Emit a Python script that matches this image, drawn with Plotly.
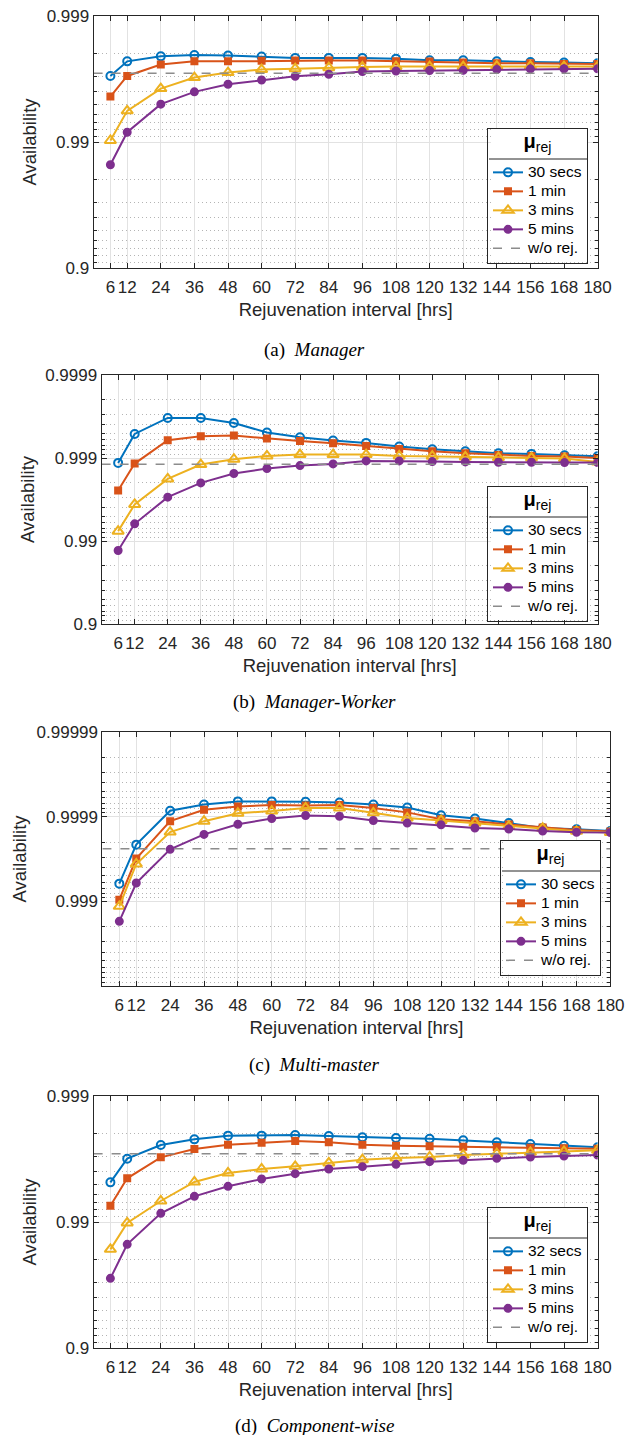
import math
import plotly.graph_objects as go

# ---------------- data ----------------
INTERVALS = [6, 12, 24, 36, 48, 60, 72, 84, 96, 108, 120, 132, 144, 156, 168, 180]
X_RANGE = [0, 180]
LABELS_ABC = ["30 secs", "1 min", "3 mins", "5 mins"]
LABELS_D = ["32 secs", "1 min", "3 mins", "5 mins"]
BASE_LABEL = "w/o rej."

# (a) Manager
MGR_30S = [0.99701, 0.99771, 0.99791, 0.99796, 0.99794, 0.99790, 0.99785, 0.99785,
           0.99785, 0.99782, 0.99775, 0.99775, 0.99771, 0.99768, 0.99766, 0.99763]
MGR_1M = [0.99564, 0.99701, 0.99757, 0.99771, 0.99771, 0.99773, 0.99774, 0.99774,
          0.99774, 0.99771, 0.99770, 0.99766, 0.99763, 0.99763, 0.99760, 0.99760]
MGR_3M = [0.99027, 0.99434, 0.99623, 0.99692, 0.99719, 0.99734, 0.99738, 0.99743,
          0.99746, 0.99748, 0.99748, 0.99748, 0.99750, 0.99750, 0.99748, 0.99748]
MGR_5M = [0.98483, 0.99164, 0.99499, 0.99600, 0.99652, 0.99678, 0.99699, 0.99710,
          0.99724, 0.99727, 0.99729, 0.99730, 0.99734, 0.99737, 0.99738, 0.99738]
MGR_BASE = 0.99715

# (b) Manager-Worker
MW_30S = [0.998855, 0.999487, 0.999671, 0.999671, 0.999622, 0.999506, 0.999437, 0.999383,
          0.999342, 0.999272, 0.999216, 0.999171, 0.999124, 0.999108, 0.999074, 0.999048]
MW_1M = [0.997534, 0.998833, 0.999389, 0.999453, 0.999463, 0.999416, 0.999377, 0.999336,
         0.999285, 0.999223, 0.999171, 0.999124, 0.999082, 0.999057, 0.999039, 0.999003]
MW_3M = [0.992390, 0.996370, 0.998215, 0.998801, 0.998965, 0.999057, 0.999091, 0.999091,
         0.999091, 0.999057, 0.999048, 0.999030, 0.999012, 0.999003, 0.998984, 0.998886]
MW_5M = [0.987000, 0.993790, 0.997035, 0.998006, 0.998461, 0.998660, 0.998766, 0.998822,
         0.998916, 0.998916, 0.998896, 0.998886, 0.998875, 0.998875, 0.998865, 0.998865]
MW_BASE = 0.998812

# (c) Multi-master
MM_30S = [0.999382, 0.999786, 0.999915, 0.999928, 0.999934, 0.999934, 0.9999335, 0.999932,
          0.999928, 0.999922, 0.999904, 0.999895, 0.999881, 0.999864, 0.999859, 0.999852]
MM_1M = [0.999044, 0.999687, 0.999887, 0.999917, 0.999924, 0.999927, 0.999926, 0.999927,
         0.999921, 0.999911, 0.999893, 0.999887, 0.999876, 0.999866, 0.999856, 0.999850]
MM_3M = [0.998854, 0.999638, 0.999848, 0.999887, 0.999909, 0.999914, 0.999921, 0.999921,
         0.999910, 0.999896, 0.999889, 0.999881, 0.999870, 0.999863, 0.999851, 0.999846]
MM_5M = [0.998277, 0.999393, 0.999757, 0.999838, 0.999877, 0.999895, 0.999903, 0.999901,
         0.999889, 0.999881, 0.999875, 0.999864, 0.999860, 0.999852, 0.999847, 0.999846]
MM_BASE = 0.999761

# (d) Component-wise
CW_32S = [0.995156, 0.996857, 0.997552, 0.997792, 0.997936, 0.997936, 0.997961, 0.997923,
          0.997872, 0.997846, 0.997819, 0.997752, 0.997668, 0.997596, 0.997521, 0.997445]
CW_1M = [0.992580, 0.995498, 0.996933, 0.997366, 0.997567, 0.997654, 0.997724, 0.997668,
         0.997567, 0.997521, 0.997491, 0.997476, 0.997460, 0.997430, 0.997398, 0.997382]
CW_3M = [0.983520, 0.989820, 0.993187, 0.995186, 0.995916, 0.996203, 0.996385, 0.996599,
         0.996799, 0.996895, 0.996952, 0.997061, 0.997131, 0.997200, 0.997251, 0.997300]
CW_5M = [0.972000, 0.984960, 0.991463, 0.993744, 0.994788, 0.995442, 0.995866, 0.996203,
         0.996363, 0.996515, 0.996680, 0.996760, 0.996876, 0.996952, 0.997007, 0.997061]
CW_BASE = 0.997131

YTICKS_A = [0.9, 0.99, 0.999]
YTICKS_B = [0.9, 0.99, 0.999, 0.9999]
YTICKS_C = [0.999, 0.9999, 0.99999]
YTICKS_D = [0.9, 0.99, 0.999]
YTICKTEXT_A = ["0.9", "0.99", "0.999"]
YTICKTEXT_B = ["0.9", "0.99", "0.999", "0.9999"]
YTICKTEXT_C = ["0.999", "0.9999", "0.99999"]
YTICKTEXT_D = ["0.9", "0.99", "0.999"]
YLIM_A = [0.9, 0.999]
YLIM_B = [0.9, 0.9999]
YLIM_C = [0.99, 0.99999]
YLIM_D = [0.9, 0.999]

# ---------------- style / layout ----------------
W, H = 628, 1435
COLORS = ["#0072BD", "#D95319", "#EDB120", "#7E2F8E"]
SYMBOLS = ["circle-open", "square", "triangle-up-open", "circle"]
SIZES = [8, 6, 10, 7]
BASE_COLOR = "#8c8c8c"
AX_COLOR = "#262626"
SANS = "Liberation Sans, Arial, sans-serif"
SERIF = "Liberation Serif, Times New Roman, serif"
TICK_SIZE = 17
TITLE_SIZE = 18.5
LEG_TEXT = 15.5          # shown size of legend entries
LEG_ROW = 12.3           # legend font size that sets the row pitch (~19 px)
LEG_TITLE = 7.4          # legend title font size (3 lines -> title band height)
LEG_TITLE_SHOWN = 20
LEG_W = 99               # expected legend width (px)
LEG_H = 136              # expected legend height (px)
LEG_DIV = 31             # divider offset below legend top (px)


def unavail(a):
    return 1.0 - a


panels = [
    dict(series=[MGR_30S, MGR_1M, MGR_3M, MGR_5M], labels=LABELS_ABC, base=MGR_BASE,
         ylim=YLIM_A, yticks=YTICKS_A, yticktext=YTICKTEXT_A,
         box=(93.6, 16, 597.6, 268), cap="(a)", name="Manager", cap_y=350,
         leg=(588, 128)),
    dict(series=[MW_30S, MW_1M, MW_3M, MW_5M], labels=LABELS_ABC, base=MW_BASE,
         ylim=YLIM_B, yticks=YTICKS_B, yticktext=YTICKTEXT_B,
         box=(101.6, 375, 597.6, 624), cap="(b)", name="Manager-Worker", cap_y=702,
         leg=(588, 486)),
    dict(series=[MM_30S, MM_1M, MM_3M, MM_5M], labels=LABELS_ABC, base=MM_BASE,
         ylim=YLIM_C, yticks=YTICKS_C, yticktext=YTICKTEXT_C,
         box=(102.4, 732, 610.4, 986), cap="(c)", name="Multi-master", cap_y=1065,
         leg=(601, 840)),
    dict(series=[CW_32S, CW_1M, CW_3M, CW_5M], labels=LABELS_D, base=CW_BASE,
         ylim=YLIM_D, yticks=YTICKS_D, yticktext=YTICKTEXT_D,
         box=(93.6, 1096, 597.6, 1348), cap="(d)", name="Component-wise", cap_y=1426,
         leg=(588, 1207)),
]


def leg_name(s):
    return '<span style="font-size:%spx">%s</span>' % (LEG_TEXT, s)


LEG_TITLE_TEXT = ('&nbsp;<br><span style="font-size:%spx"><b>μ</b><sub>rej</sub></span><br>&nbsp;'
                  % LEG_TITLE_SHOWN)

fig = go.Figure()
layout = dict(width=W, height=H, margin=dict(l=0, r=0, t=0, b=0, autoexpand=False),
              paper_bgcolor="white", plot_bgcolor="white", showlegend=True,
              annotations=[], shapes=[])

for i, p in enumerate(panels):
    n = "" if i == 0 else str(i + 1)
    xa, ya = "x" + n, "y" + n
    leg = "legend" + n
    for vals, lab, col, sym, sz in zip(p["series"], p["labels"], COLORS, SYMBOLS, SIZES):
        fig.add_trace(go.Scatter(
            x=INTERVALS, y=[unavail(v) for v in vals], name=leg_name(lab),
            mode="lines+markers",
            line=dict(color=col, width=2),
            marker=dict(symbol=sym, size=sz, color=col, line=dict(color=col, width=2)),
            xaxis=xa, yaxis=ya, legend=leg,
            customdata=vals, hovertemplate="%{x} hrs: %{customdata}<extra>" + lab + "</extra>"))
    fig.add_trace(go.Scatter(
        x=X_RANGE, y=[unavail(p["base"])] * 2, name=leg_name(BASE_LABEL), mode="lines",
        line=dict(color=BASE_COLOR, width=1.5, dash="dash"),
        xaxis=xa, yaxis=ya, legend=leg, hoverinfo="skip"))

    x0, y0, x1, y1 = p["box"]
    common = dict(showline=True, linecolor=AX_COLOR, linewidth=1, mirror="ticks",
                  ticks="inside", tickcolor=AX_COLOR, ticklen=5, automargin=False,
                  tickfont=dict(family=SANS, size=TICK_SIZE, color=AX_COLOR),
                  showgrid=True, gridcolor="#e2e2e2", gridwidth=1, zeroline=False)
    layout["xaxis" + n] = dict(
        common, domain=[x0 / W, x1 / W], anchor=ya, range=X_RANGE,
        tickmode="array", tickvals=INTERVALS, ticktext=[str(v) for v in INTERVALS],
        ticklabelstandoff=4,
        title=dict(text="Rejuvenation interval [hrs]", standoff=6,
                   font=dict(family=SANS, size=TITLE_SIZE, color=AX_COLOR)))
    layout["yaxis" + n] = dict(
        common, domain=[1 - y1 / H, 1 - y0 / H], anchor=xa, type="log",
        range=[math.log10(unavail(p["ylim"][0])), math.log10(unavail(p["ylim"][1]))],
        tickmode="array", tickvals=[unavail(v) for v in p["yticks"]],
        ticktext=p["yticktext"], ticklabelstandoff=0,
        minor=dict(dtick="D1", ticks="inside", ticklen=3, tickcolor=AX_COLOR,
                   showgrid=True, gridcolor="#b4b4b4", griddash="1px,3px", gridwidth=1),
        title=dict(text="Availability", standoff=5,
                   font=dict(family=SANS, size=TITLE_SIZE, color=AX_COLOR)))

    right, top = p["leg"]
    layout[leg] = dict(
        x=right / W, xanchor="right", y=1 - top / H, yanchor="top",
        bgcolor="rgba(0,0,0,0)", bordercolor=AX_COLOR, borderwidth=1,
        font=dict(family=SANS, size=LEG_ROW, color="#000000"),
        title=dict(text=LEG_TITLE_TEXT, side="top center",
                   font=dict(family=SANS, size=LEG_TITLE, color="#000000")),
        tracegroupgap=0, itemwidth=30)
    # white backing of the legend box and the rule under its title
    layout["shapes"].append(dict(
        type="rect", xref="paper", yref="paper", layer="above",
        x0=(right - LEG_W + 2) / W, x1=(right - 1) / W,
        y0=1 - (top + LEG_H - 2) / H, y1=1 - (top + 1) / H,
        fillcolor="white", line=dict(width=0)))
    layout["shapes"].append(dict(
        type="line", xref="paper", yref="paper", layer="above",
        x0=(right - LEG_W) / W, x1=right / W,
        y0=1 - (top + LEG_DIV) / H, y1=1 - (top + LEG_DIV) / H,
        line=dict(color=AX_COLOR, width=1)))
    layout["annotations"].append(dict(
        text=p["cap"] + "&nbsp;&nbsp;<i>" + p["name"] + "</i>", xref="paper", yref="paper",
        x=0.5, y=1 - p["cap_y"] / H, xanchor="center", yanchor="middle", showarrow=False,
        font=dict(family=SERIF, size=19, color="#000000")))

fig.update_layout(**layout)
fig.write_html("out.html", config={"displayModeBar": False},
               post_script="document.body.style.margin='0px';")
